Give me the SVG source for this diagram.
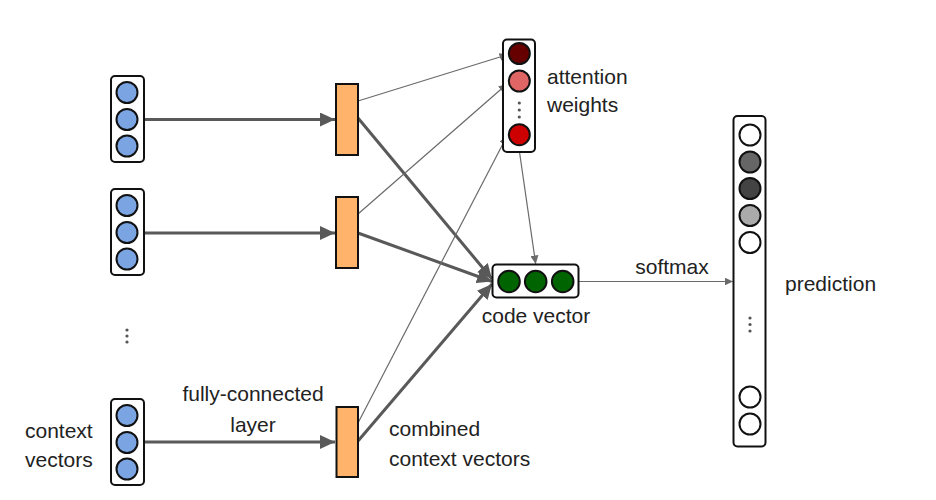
<svg xmlns="http://www.w3.org/2000/svg" width="936" height="500" viewBox="0 0 936 500">
<style>
  .box{fill:#fff;stroke:#111;stroke-width:2}
  .blue{fill:#7ba4e3;stroke:#111;stroke-width:2}
  .fc{fill:#ffb36b;stroke:#111;stroke-width:2}
  .node{stroke:#111;stroke-width:2}
  .thick{stroke:#595959;stroke-width:3;fill:none}
  .thin{stroke:#6a6a6a;stroke-width:1.2;fill:none}
  .lbl{font-family:"Liberation Sans",Arial,sans-serif;font-size:21px;fill:#222}
  .dot{fill:#555}
</style>
<defs>
  <marker id="bigArrow" markerUnits="userSpaceOnUse" markerWidth="16" markerHeight="14" refX="15" refY="7" orient="auto">
    <path d="M0,0 L15,7 L0,14 Z" fill="#595959"/>
  </marker>
  <marker id="smallArrow" markerUnits="userSpaceOnUse" markerWidth="9" markerHeight="8" refX="8.5" refY="4" orient="auto">
    <path d="M0,0 L8.5,4 L0,8 Z" fill="#6a6a6a"/>
  </marker>
</defs>

<g id="connectors">
  <line class="thick" x1="144" y1="119.5" x2="335" y2="119.5" marker-end="url(#bigArrow)"/>
  <line class="thick" x1="144" y1="233" x2="335" y2="233" marker-end="url(#bigArrow)"/>
  <line class="thick" x1="144" y1="442" x2="335" y2="442" marker-end="url(#bigArrow)"/>
  <line class="thick" x1="358" y1="118" x2="492" y2="279" marker-end="url(#bigArrow)"/>
  <line class="thick" x1="358" y1="233" x2="492" y2="281.5" marker-end="url(#bigArrow)"/>
  <line class="thick" x1="358" y1="441" x2="492" y2="284" marker-end="url(#bigArrow)"/>
  <line class="thin" x1="358" y1="101" x2="508" y2="54.5" marker-end="url(#smallArrow)"/>
  <line class="thin" x1="358" y1="214" x2="507" y2="84" marker-end="url(#smallArrow)"/>
  <line class="thin" x1="358" y1="423" x2="507" y2="136" marker-end="url(#smallArrow)"/>
  <line class="thin" x1="519.5" y1="152" x2="535.7" y2="264" marker-end="url(#smallArrow)"/>
  <line class="thin" x1="578.5" y1="281.5" x2="733" y2="281.5" marker-end="url(#smallArrow)"/>
</g>

<g id="context1">
  <rect class="box" x="111" y="76" width="33" height="86" rx="4"/>
  <circle class="blue" cx="127" cy="92.5" r="10.5"/>
  <circle class="blue" cx="127" cy="119.5" r="10.5"/>
  <circle class="blue" cx="127" cy="146" r="10.5"/>
</g>
<g id="context2">
  <rect class="box" x="111" y="189" width="33" height="86" rx="4"/>
  <circle class="blue" cx="127" cy="205.5" r="10.5"/>
  <circle class="blue" cx="127" cy="232.5" r="10.5"/>
  <circle class="blue" cx="127" cy="259" r="10.5"/>
</g>
<g id="context-dots">
  <circle class="dot" cx="127" cy="330" r="1.6"/>
  <circle class="dot" cx="127" cy="336" r="1.6"/>
  <circle class="dot" cx="127" cy="342" r="1.6"/>
</g>
<g id="context3">
  <rect class="box" x="111" y="399" width="33" height="86" rx="4"/>
  <circle class="blue" cx="127" cy="415.5" r="10.5"/>
  <circle class="blue" cx="127" cy="442.5" r="10.5"/>
  <circle class="blue" cx="127" cy="469" r="10.5"/>
  <text class="lbl" x="25" y="437.5">context</text>
  <text class="lbl" x="25" y="467">vectors</text>
</g>

<g id="fc1"><rect class="fc" x="336" y="84" width="22" height="71"/></g>
<g id="fc2"><rect class="fc" x="336" y="197" width="22" height="71"/></g>
<g id="fc3">
  <rect class="fc" x="336.5" y="407" width="21.5" height="70"/>
  <text class="lbl" x="253" y="401" text-anchor="middle">fully-connected</text>
  <text class="lbl" x="253" y="431.5" text-anchor="middle">layer</text>
  <text class="lbl" x="389" y="435.5">combined</text>
  <text class="lbl" x="389" y="465.5">context vectors</text>
</g>

<g id="attention">
  <rect class="box" x="503" y="39.5" width="32" height="112.5" rx="4"/>
  <circle class="node" cx="519.3" cy="53.5" r="10.5" fill="#660000"/>
  <circle class="node" cx="519.3" cy="81" r="10.5" fill="#e06666"/>
  <circle class="dot" cx="519.3" cy="103" r="1.6"/>
  <circle class="dot" cx="519.3" cy="110" r="1.6"/>
  <circle class="dot" cx="519.3" cy="117" r="1.6"/>
  <circle class="node" cx="519.3" cy="134.7" r="10.5" fill="#cc0000"/>
  <text class="lbl" x="547" y="84">attention</text>
  <text class="lbl" x="547" y="112">weights</text>
</g>

<g id="code-vector">
  <rect class="box" x="492.5" y="264.5" width="86" height="33" rx="4"/>
  <circle class="node" cx="509" cy="281.5" r="10.8" fill="#006400"/>
  <circle class="node" cx="535.7" cy="281.5" r="10.8" fill="#006400"/>
  <circle class="node" cx="562.7" cy="281.5" r="10.8" fill="#006400"/>
  <text class="lbl" x="536" y="323" text-anchor="middle">code vector</text>
</g>

<g id="softmax-label">
  <text class="lbl" x="672" y="274" text-anchor="middle">softmax</text>
</g>

<g id="prediction">
  <rect class="box" x="733.5" y="116" width="32" height="330.5" rx="4"/>
  <circle class="node" cx="750" cy="135" r="10.5" fill="#fff"/>
  <circle class="node" cx="750" cy="162" r="10.5" fill="#666666"/>
  <circle class="node" cx="750" cy="188.5" r="10.5" fill="#434343"/>
  <circle class="node" cx="750" cy="215.5" r="10.5" fill="#aaaaaa"/>
  <circle class="node" cx="750" cy="242.5" r="10.5" fill="#fff"/>
  <circle class="dot" cx="750" cy="318" r="1.6"/>
  <circle class="dot" cx="750" cy="324.5" r="1.6"/>
  <circle class="dot" cx="750" cy="331" r="1.6"/>
  <circle class="node" cx="750" cy="397" r="10.5" fill="#fff"/>
  <circle class="node" cx="750" cy="424" r="10.5" fill="#fff"/>
  <text class="lbl" x="785" y="291">prediction</text>
</g>
</svg>
